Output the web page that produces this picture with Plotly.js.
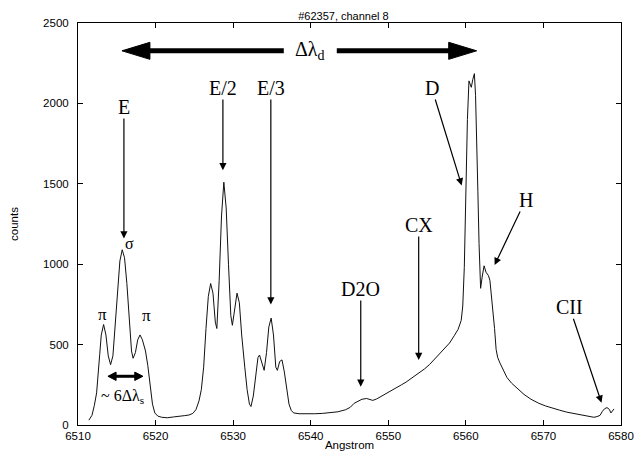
<!DOCTYPE html>
<html>
<head>
<meta charset="utf-8">
<script src="https://cdn.plot.ly/plotly-3.0.1.min.js"></script>
<style>html,body{margin:0;padding:0;background:#fff;}#chart{width:636px;height:459px;}</style>
</head>
<body>
<div id="chart"></div>
<script>
// Spectrum (wavelength in Angstrom, counts)
const wavelength = [
  6511.4,6511.8,6512.1,6512.4,6512.8,6513.0,6513.3,6513.6,6513.9,6514.2,6514.5,6514.8,6515.1,6515.4,6515.7,
  6516.0,6516.3,6516.6,6516.9,6517.1,6517.4,6517.7,6518.0,6518.3,6518.7,6519.0,6519.3,6519.6,6519.9,6520.3,
  6520.8,6521.5,6522.3,6523.0,6523.7,6524.3,6524.8,6525.2,6525.6,6525.9,6526.2,6526.5,6526.8,6527.1,6527.4,
  6527.7,6527.9,6528.2,6528.5,6528.8,6529.1,6529.4,6529.7,6529.9,6530.2,6530.5,6530.8,6531.1,6531.5,6531.8,
  6532.1,6532.3,6532.6,6532.9,6533.2,6533.4,6533.7,6534.0,6534.3,6534.6,6534.9,6535.2,6535.5,6535.7,6536.0,
  6536.3,6536.6,6536.9,6537.2,6537.5,6537.8,6538.5,6539.5,6540.5,6541.5,6542.5,6543.5,6544.5,6545.1,6545.6,
  6546.1,6546.6,6547.2,6547.6,6548.0,6548.5,6549.0,6549.7,6550.3,6551.0,6551.7,6552.3,6553.0,6553.6,6554.1,
  6554.7,6555.3,6555.9,6556.5,6557.2,6557.9,6558.5,6559.0,6559.4,6559.6,6559.8,6560.0,6560.2,6560.4,6560.55,
  6560.7,6560.9,6561.1,6561.25,6561.4,6561.55,6561.7,6561.9,6562.1,6562.35,6562.6,6562.9,6563.1,6563.3,6563.5,
  6563.7,6563.9,6564.1,6564.4,6564.8,6565.3,6565.9,6566.6,6567.5,6568.4,6569.4,6570.3,6571.2,6572.1,6573.0,
  6574.0,6575.0,6575.9,6576.5,6576.9,6577.3,6577.6,6577.9,6578.2,6578.5,6578.7,6578.9,6579.1
];
const counts = [
  30,60,120,200,440,560,625,560,430,375,430,620,860,1020,1090,
  1040,880,640,460,415,450,530,560,530,460,370,240,130,75,55,
  48,45,50,52,58,62,72,95,150,220,360,600,800,880,820,
  640,600,900,1300,1510,1350,1000,680,620,720,820,760,560,360,220,
  130,115,180,300,420,435,380,340,450,610,665,560,360,340,395,
  405,330,236,130,90,75,70,68,70,72,76,82,95,110,135,
  150,160,165,160,153,162,175,195,212,232,250,267,290,310,325,
  350,375,405,435,470,510,555,595,650,740,980,1450,1900,2140,2120,
  2100,2150,2185,2050,1800,1450,1130,850,920,990,950,930,900,810,700,
  600,470,420,385,340,295,260,230,190,160,135,118,103,92,80,
  70,60,52,48,52,60,85,102,108,97,75,85,100
];

const xTicks = [6510,6520,6530,6540,6550,6560,6570,6580];
const yTicks = [0,500,1000,1500,2000,2500];

// Line labels: text position and arrow tip
const labelText = ['E','E/2','E/3','D','CX','H','D2O','CII'];
const labelX    = [6515.92,6528.68,6534.86,6555.60,6553.92,6567.70,6546.45,6573.37];
const labelY    = [1978,2096,2096,2096,1244,1399,845,732];
const tipX      = [6515.92,6528.68,6534.86,6559.46,6553.92,6563.71,6546.45,6577.49];
const tipY      = [1160,1585,750,1490,405,995,238,138];

const serif = 'Liberation Serif, Times New Roman, serif';
const ann = [];
for (let i = 0; i < labelText.length; i++) {
  ann.push({x: tipX[i], y: tipY[i], ax: labelX[i], ay: labelY[i], xref:'x', yref:'y', axref:'x', ayref:'y',
            text: labelText[i], showarrow:true, arrowhead:2, arrowsize:1.2, arrowwidth:1.2, arrowcolor:'#000',
            standoff:0, startstandoff:0, borderpad:0,
            font:{family: serif, size:20, color:'#000'}});
}
// small labels
const smallText = ['σ','π','π','~ 6Δλ<sub>s</sub>'];
const smallX = [6516.70,6513.22,6518.89,6515.80];
const smallY = [1131,689,683,178];
const smallSize = [16,17,17,16];
for (let i = 0; i < smallText.length; i++) {
  ann.push({x: smallX[i], y: smallY[i], xref:'x', yref:'y', text: smallText[i], showarrow:false,
            font:{family: serif, size: smallSize[i], color:'#000'}});
}
ann.push({x: 6539.88, y: 2327, xref:'x', yref:'y', text:'Δλ<sub>d</sub>', showarrow:false,
          font:{family: serif, size:20, color:'#000'}});

// Big double arrow Δλd and small double arrow 6Δλs
const bigY = 2327, bigL = 6515.67, bigR = 6561.39, headLen = 3.6, headHalf = 53;
const smY = 303, smL = 6513.86, smR = 6518.37, smHead = 1.05, smHalf = 26;
const shapes = [
  {type:'line', xref:'x', yref:'y', x0: bigL+headLen-0.3, x1: 6536.53, y0: bigY, y1: bigY, line:{color:'#000', width:5}},
  {type:'line', xref:'x', yref:'y', x0: 6543.36, x1: bigR-headLen+0.3, y0: bigY, y1: bigY, line:{color:'#000', width:5}},
  {type:'path', xref:'x', yref:'y', path:`M${bigL},${bigY} L${bigL+headLen},${bigY+headHalf} L${bigL+headLen},${bigY-headHalf} Z`, fillcolor:'#000', line:{color:'#000', width:1}},
  {type:'path', xref:'x', yref:'y', path:`M${bigR},${bigY} L${bigR-headLen},${bigY+headHalf} L${bigR-headLen},${bigY-headHalf} Z`, fillcolor:'#000', line:{color:'#000', width:1}},
  {type:'line', xref:'x', yref:'y', x0: smL+smHead-0.1, x1: smR-smHead+0.1, y0: smY, y1: smY, line:{color:'#000', width:3}},
  {type:'path', xref:'x', yref:'y', path:`M${smL},${smY} L${smL+smHead},${smY+smHalf} L${smL+smHead},${smY-smHalf} Z`, fillcolor:'#000', line:{color:'#000', width:1}},
  {type:'path', xref:'x', yref:'y', path:`M${smR},${smY} L${smR-smHead},${smY+smHalf} L${smR-smHead},${smY-smHalf} Z`, fillcolor:'#000', line:{color:'#000', width:1}}
];

const trace = {x: wavelength, y: counts, type:'scatter', mode:'lines', line:{color:'#111', width:1}, hoverinfo:'skip'};

const axisFont = {family:'Liberation Sans, Arial, sans-serif', size:11.5, color:'#000'};
const layout = {
  width:636, height:459,
  margin:{l:78, r:15, t:23, b:34, pad:0},
  paper_bgcolor:'#fff', plot_bgcolor:'#fff',
  showlegend:false,
  title:{text:'#62357, channel 8', font:{family:'Liberation Sans, Arial, sans-serif', size:11, color:'#000'}, x:0.54, xanchor:'center', y:0.965, yanchor:'middle'},
  xaxis:{range:[6510,6580], tickvals:xTicks, ticktext:xTicks.map(String), ticks:'inside', ticklen:5, tickcolor:'#000',
         showline:true, linecolor:'#000', linewidth:1, mirror:'ticks', showgrid:false, zeroline:false,
         tickfont:axisFont, title:{text:'Angstrom', font:axisFont, standoff:0}},
  yaxis:{range:[0,2500], tickvals:yTicks, ticktext:yTicks.map(String), ticks:'inside', ticklen:5, tickcolor:'#000',
         showline:true, linecolor:'#000', linewidth:1, mirror:'ticks', showgrid:false, zeroline:false,
         tickfont:axisFont, ticklabelstandoff:6, title:{text:'counts', font:axisFont, standoff:22}},
  annotations: ann,
  shapes: shapes
};
Plotly.newPlot('chart', [trace], layout, {staticPlot:true, displayModeBar:false});
</script>
</body>
</html>
